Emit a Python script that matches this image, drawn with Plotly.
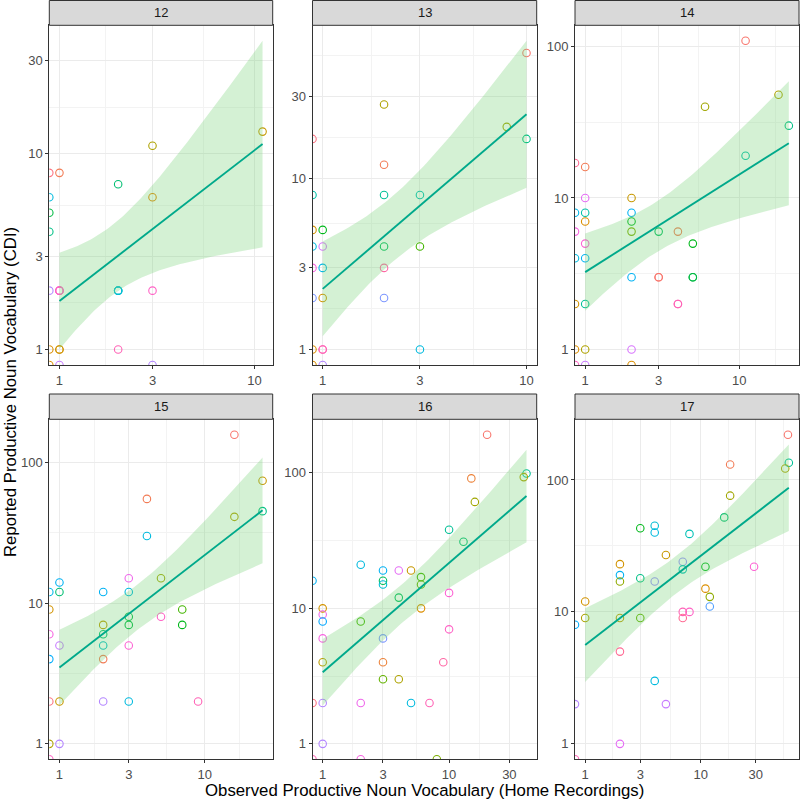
import math
import numpy as np
import plotly.graph_objects as go

AGES = [12, 13, 14, 15, 16, 17]
N_SUBJECTS = 44

# ---- data: observed nouns (home recordings), reported nouns (CDI), subject id ----
# (children sharing a position are listed first; they sit under the visible circle)
obs_12 = [1, 1, 1, 2, 2, 0, 1, 0, 0, 0, 0, 1, 2, 2, 3, 3, 3, 11, 0, 1, 2, 0, 1, 3]
cdi_12 = [1, 2, 2, 2, 2, 8, 8, 6, 5, 4, 2, 2, 7, 2, 11, 6, 2, 13, 1, 1, 1, 0, 0, 0]
subj_12 = [6, 40, 40, 24, 24, 44, 2, 25, 16, 19, 33, 40, 18, 24, 9, 4, 40, 7, 5, 6, 41, 5, 34, 33]

obs_13 = [1, 0, 10, 2, 8, 10, 2, 0, 2, 3, 0, 1, 0, 1, 2, 3, 0, 1, 2, 0, 1, 2, 0, 1, 3, 0, 1]
cdi_13 = [1, 17, 54, 27, 20, 17, 12, 8, 8, 8, 5, 5, 4, 4, 4, 4, 3, 3, 3, 2, 2, 2, 1, 1, 1, 0, 0]
subj_13 = [41, 44, 1, 9, 10, 19, 2, 21, 20, 22, 6, 15, 25, 35, 17, 14, 38, 26, 42, 31, 6, 31, 5, 41, 25, 5, 33]

obs_14 = [4, 5, 3, 11, 18, 6, 21, 11, 0, 1, 1, 2, 0, 1, 2, 1, 2, 0, 2, 3, 4, 1, 5, 0, 1, 2, 3, 5, 0, 1, 4, 0, 1, 2, 0, 1, 2]
cdi_14 = [2, 3, 3, 109, 48, 40, 30, 19, 17, 16, 10, 10, 8, 8, 8, 7, 7, 6, 6, 6, 6, 5, 5, 4, 4, 3, 3, 3, 2, 2, 2, 1, 1, 1, 0, 0, 0]
subj_14 = [41, 16, 1, 1, 9, 10, 19, 21, 43, 2, 36, 7, 26, 21, 27, 5, 15, 38, 12, 17, 2, 39, 15, 25, 27, 27, 1, 16, 6, 20, 41, 5, 9, 35, 40, 34, 5]

obs_15 = [16, 25, 16, 25, 4, 4, 0, 1, 1, 2, 3, 3, 5, 0, 7, 3, 5, 2, 3, 7, 0, 2, 1, 2, 3, 0, 2, 0, 1, 2, 3, 9, 0, 1, 0]
cdi_15 = [157, 74, 41, 45, 55, 30, 12, 14, 12, 12, 12, 15, 15, 9, 9, 8, 8, 7, 7, 7, 6, 6, 5, 5, 5, 4, 4, 2, 2, 2, 2, 2, 1, 1, 0]
subj_15 = [1, 7, 9, 19, 2, 25, 26, 27, 18, 27, 25, 37, 10, 6, 14, 16, 40, 8, 16, 15, 38, 18, 34, 23, 39, 28, 2, 44, 7, 33, 25, 41, 9, 33, 40]

obs_16 = [20, 41, 39, 15, 16, 10, 13, 2, 3, 4, 5, 0, 3, 3, 6, 6, 4, 10, 1, 6, 1, 1, 2, 10, 1, 3, 1, 3, 9, 3, 4, 0, 1, 2, 5, 7, 1, 0, 2, 8]
cdi_16 = [191, 99, 93, 91, 61, 38, 31, 21, 19, 19, 19, 16, 16, 15, 17, 15, 12, 13, 10, 10, 9, 8, 8, 7, 6, 6, 4, 4, 4, 3, 3, 2, 2, 2, 2, 2, 1, 0, 0, 0]
subj_16 = [1, 20, 9, 3, 10, 20, 18, 25, 27, 36, 7, 27, 17, 24, 14, 13, 17, 39, 6, 5, 37, 29, 14, 40, 38, 31, 8, 3, 42, 13, 9, 44, 33, 37, 25, 41, 33, 41, 38, 12]

obs_17 = [57, 58, 54, 18, 18, 16, 3, 4, 4, 8, 5, 7, 7, 11, 29, 2, 2, 2, 3, 4, 11, 12, 12, 1, 1, 2, 3, 7, 8, 7, 0, 2, 4, 0, 5, 2, 0]
cdi_17 = [220, 135, 122, 131, 76, 52, 43, 45, 40, 39, 27, 24, 21, 22, 22, 23, 19, 17, 18, 17, 15, 13, 11, 12, 9, 9, 9, 10, 10, 9, 8, 5, 3, 2, 2, 1, 0]
subj_17 = [1, 20, 9, 2, 10, 18, 15, 24, 25, 22, 7, 32, 22, 15, 39, 6, 27, 11, 19, 32, 5, 11, 30, 6, 9, 8, 13, 41, 40, 43, 28, 43, 25, 33, 34, 36, 41]

x_ticks_12 = [1, 3, 10]
x_ticks_13 = [1, 3, 10]
x_ticks_14 = [1, 3, 10]
x_ticks_15 = [1, 3, 10]
x_ticks_16 = [1, 3, 10, 30]
x_ticks_17 = [1, 3, 10, 30]
y_ticks_12 = [1, 3, 10, 30]
y_ticks_13 = [1, 3, 10, 30]
y_ticks_14 = [1, 10, 100]
y_ticks_15 = [1, 10, 100]
y_ticks_16 = [1, 10, 100]
y_ticks_17 = [1, 10, 100]

X_TITLE = "Observed Productive Noun Vocabulary (Home Recordings)"
Y_TITLE = "Reported Productive Noun Vocabulary (CDI)"

panels = {
    12: (obs_12, cdi_12, subj_12, x_ticks_12, y_ticks_12),
    13: (obs_13, cdi_13, subj_13, x_ticks_13, y_ticks_13),
    14: (obs_14, cdi_14, subj_14, x_ticks_14, y_ticks_14),
    15: (obs_15, cdi_15, subj_15, x_ticks_15, y_ticks_15),
    16: (obs_16, cdi_16, subj_16, x_ticks_16, y_ticks_16),
    17: (obs_17, cdi_17, subj_17, x_ticks_17, y_ticks_17),
}


# ---- ggplot-like hue palette ----
def hcl_hex(h, c=100.0, l=65.0):
    hr = math.radians(h)
    u, v = c * math.cos(hr), c * math.sin(hr)
    Y = ((l + 16) / 116) ** 3
    un, vn = 0.1978398, 0.4683363
    up = u / (13 * l) + un
    vp = v / (13 * l) + vn
    X = Y * 9 * up / (4 * vp)
    Z = Y * (12 - 3 * up - 20 * vp) / (4 * vp)
    rgb = [3.240479 * X - 1.537150 * Y - 0.498535 * Z,
           -0.969256 * X + 1.875992 * Y + 0.041556 * Z,
           0.055648 * X - 0.204043 * Y + 1.057311 * Z]
    out = []
    for ch in rgb:
        ch = 12.92 * ch if ch <= 0.0031308 else 1.055 * ch ** (1 / 2.4) - 0.055
        out.append(int(round(min(max(ch, 0), 1) * 255)))
    return "#%02X%02X%02X" % tuple(out)


def subj_color(k):
    return hcl_hex(15 + (k - 1) * 360.0 / N_SUBJECTS)


def t975(nu):
    z = 1.959963985
    return (z + (z ** 3 + z) / (4 * nu)
            + (5 * z ** 5 + 16 * z ** 3 + 3 * z) / (96 * nu ** 2)
            + (3 * z ** 7 + 19 * z ** 5 + 17 * z ** 3 - 15 * z) / (384 * nu ** 3)
            + (79 * z ** 9 + 776 * z ** 7 + 1482 * z ** 5 - 1920 * z ** 3 - 945 * z) / (92160 * nu ** 4))


def smooth(lx, ly, n_pts=80):
    n = len(lx)
    mx, my = lx.mean(), ly.mean()
    sxx = ((lx - mx) ** 2).sum()
    b = ((lx - mx) * (ly - my)).sum() / sxx
    a = my - b * mx
    s2 = ((ly - a - b * lx) ** 2).sum() / (n - 2)
    g = np.linspace(lx.min(), lx.max(), n_pts)
    fit = a + b * g
    se = np.sqrt(s2 * (1 / n + (g - mx) ** 2 / sxx))
    t = t975(n - 2)
    return g, fit, fit - t * se, fit + t * se


def minor_breaks(major, lim):
    b = [m for m in major if lim[0] <= m <= lim[1]]
    bd = b[1] - b[0]
    if lim[0] < b[0]:
        b = [b[0] - bd] + b
    if lim[1] > b[-1]:
        b = b + [b[-1] + bd]
    mids = [(b[i] + b[i + 1]) / 2 for i in range(len(b) - 1)]
    return [10 ** m for m in mids if lim[0] <= m <= lim[1]]


W = H = 800
col_px = [(49.3, 272.7), (312.5, 536.7), (575.0, 799.0)]
row_px = [(25.3, 365.0), (419.3, 759.3)]
strip_px = [(0.5, 25.3), (394.0, 419.3)]

fig = go.Figure()
layout = dict(
    width=W, height=H, margin=dict(l=0, r=0, t=0, b=0),
    paper_bgcolor="white", plot_bgcolor="white", showlegend=False,
    font=dict(family="Liberation Sans, Arial, sans-serif", color="#4D4D4D"),
    shapes=[], annotations=[],
)

GRID = "#EBEBEB"
MINOR = "#F3F3F3"
FRAME = "#333333"
RIBBON = "rgba(120,210,120,0.32)"
LINE = "#00A98B"

for i, age in enumerate(AGES):
    obs, cdi, subj, xt, yt = panels[age]
    obs = np.array(obs, dtype=float)
    cdi = np.array(cdi, dtype=float)
    r, c = divmod(i, 3)
    ax = "" if i == 0 else str(i + 1)

    fin = (obs > 0) & (cdi > 0)
    lx, ly = np.log10(obs[fin]), np.log10(cdi[fin])
    g, fit, lo, hi = smooth(lx, ly)

    x0, x1 = lx.min(), lx.max()
    px = 0.05 * (x1 - x0)
    xr = [x0 - px, x1 + px]
    ally = np.log10(cdi[cdi > 0])
    y0 = min(ally.min(), lo.min())
    y1 = max(ally.max(), hi.max())
    py = 0.05 * (y1 - y0)
    yr = [y0 - py, y1 + py]

    # -Inf (zero) values drawn at the panel edge, as ggplot does
    xs = np.where(obs > 0, obs, 10 ** xr[0])
    ys = np.where(cdi > 0, cdi, 10 ** yr[0])

    fig.add_trace(go.Scatter(
        x=xs, y=ys, mode="markers", xaxis="x" + ax, yaxis="y" + ax,
        marker=dict(symbol="circle-open", size=7.5,
                    color=[subj_color(k) for k in subj], line=dict(width=1.1)),
        hoverinfo="x+y",
    ))
    gx = 10 ** g
    fig.add_trace(go.Scatter(
        x=np.concatenate([gx, gx[::-1]]),
        y=np.concatenate([10 ** hi, (10 ** lo)[::-1]]),
        mode="lines", fill="toself", fillcolor=RIBBON, line=dict(width=0),
        xaxis="x" + ax, yaxis="y" + ax, hoverinfo="skip",
    ))
    fig.add_trace(go.Scatter(
        x=gx, y=10 ** fit, mode="lines", line=dict(color=LINE, width=1.9),
        xaxis="x" + ax, yaxis="y" + ax, hoverinfo="skip",
    ))

    cx0, cx1 = col_px[c]
    ry0, ry1 = row_px[r]
    common = dict(
        type="log", showline=True, mirror=True, linecolor=FRAME, linewidth=1,
        ticks="outside", ticklen=3, tickcolor=FRAME, tickwidth=1,
        showgrid=True, gridcolor=GRID, gridwidth=1, zeroline=False,
        tickfont=dict(size=13, color="#4D4D4D"),
    )
    layout["xaxis" + ax] = dict(
        common, domain=[cx0 / W, cx1 / W], range=xr, anchor="y" + ax,
        tickvals=xt, ticktext=[str(v) for v in xt],
        minor=dict(tickvals=minor_breaks(list(np.log10(xt)), xr), showgrid=True,
                   gridcolor=MINOR, gridwidth=0.6, ticks=""),
    )
    layout["yaxis" + ax] = dict(
        common, domain=[1 - ry1 / H, 1 - ry0 / H], range=yr, anchor="x" + ax,
        tickvals=yt, ticktext=[str(v) for v in yt],
        minor=dict(tickvals=minor_breaks(list(np.log10(yt)), yr), showgrid=True,
                   gridcolor=MINOR, gridwidth=0.6, ticks=""),
    )

    sy0, sy1 = strip_px[r]
    layout["shapes"].append(dict(
        type="rect", xref="paper", yref="paper",
        x0=cx0 / W, x1=cx1 / W, y0=1 - sy1 / H, y1=1 - sy0 / H,
        fillcolor="#D9D9D9", line=dict(color=FRAME, width=1), layer="above",
    ))
    layout["annotations"].append(dict(
        xref="paper", yref="paper", x=(cx0 + cx1) / 2 / W, y=1 - (sy0 + sy1) / 2 / H,
        text=str(age), showarrow=False, xanchor="center", yanchor="middle",
        font=dict(size=13, color="#1A1A1A"),
    ))

layout["annotations"].append(dict(
    xref="paper", yref="paper", x=424 / W, y=1 - 790 / H, text=X_TITLE,
    showarrow=False, xanchor="center", yanchor="middle",
    font=dict(size=16.8, color="#000000"),
))
layout["annotations"].append(dict(
    xref="paper", yref="paper", x=10 / W, y=1 - 392 / H, text=Y_TITLE,
    showarrow=False, xanchor="center", yanchor="middle", textangle=-90,
    font=dict(size=16.8, color="#000000"),
))

fig.update_layout(**layout)
fig.write_html("out.html", config={"displayModeBar": False},
               post_script="document.body.style.margin='0';")
